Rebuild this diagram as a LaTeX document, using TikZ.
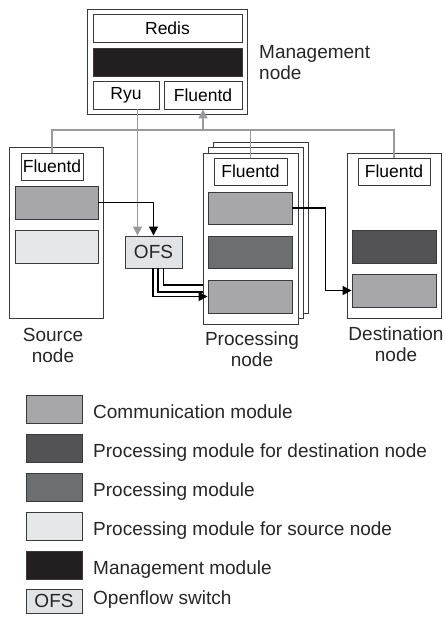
\documentclass[tikz,border=0pt]{standalone}
\usepackage{fontspec}
\setmainfont{Liberation Sans}
\usetikzlibrary{arrows.meta}
\definecolor{commc}{HTML}{A7A7A9}
\definecolor{dprocc}{HTML}{535355}
\definecolor{procc}{HTML}{6D6E70}
\definecolor{sprocc}{HTML}{E6E7E8}
\definecolor{mgmtc}{HTML}{231F20}
\definecolor{ofsc}{HTML}{E2E3E4}
\definecolor{linec}{HTML}{9A9A9C}
\definecolor{edgec}{HTML}{3A3A3C}
\tikzset{
  frame/.style={draw=edgec, line width=0.9pt, fill=white, inner sep=0pt},
  modbox/.style={draw=edgec, line width=0.9pt, inner sep=0pt},
  smalltxt/.style={font=\fontsize{17.5}{20}\selectfont},
  lbl/.style={font=\fontsize{19}{21}\selectfont, inner sep=0pt, text=black!85},
  gline/.style={draw=linec, line width=1.6pt},
  garrow/.style={gline, -{Triangle[length=9pt,width=9pt]}},
  bline/.style={draw=black, line width=1.5pt},
  barrow/.style={bline, -{Triangle[length=9pt,width=9pt]}}
}
\begin{document}
\begin{tikzpicture}[x=1pt,y=-1pt]
\useasboundingbox (0,0) rectangle (446,617);
% management node
\node[frame, minimum width=160pt, minimum height=105pt] (mgmt) at (167,61.5) {};
\node[frame, smalltxt, minimum width=149pt, minimum height=28pt] (redis) at (167.5,28) {Redis};
\node[modbox, fill=mgmtc, minimum width=149pt, minimum height=28pt] (mmod) at (167.5,62) {};
\node[frame, smalltxt, minimum width=66pt, minimum height=28pt] (ryu) at (126,95) {Ryu};
\node[frame, smalltxt, minimum width=78pt, minimum height=28pt] (mfl) at (203,95) {Fluentd};
\node[lbl, anchor=north west, align=left] (mlbl) at (259,45) {Management\\node};
% source node
\node[frame, minimum width=94pt, minimum height=171pt] (src) at (56,232.5) {};
\node[frame, smalltxt, minimum width=62pt, minimum height=27pt] (sfl) at (52,166.5) {Fluentd};
\node[modbox, fill=commc, minimum width=83pt, minimum height=33pt] (scomm) at (56.5,202.5) {};
\node[modbox, fill=sprocc, minimum width=83pt, minimum height=33pt] (sproc) at (56.5,246.5) {};
\node[lbl, anchor=north, align=center] (slbl) at (53,328) {Source\\node};
% processing node (stacked)
\node[frame, minimum width=95pt, minimum height=171pt] (pback) at (260.5,227.5) {};
\node[frame, minimum width=95pt, minimum height=171pt] (pmid) at (255.5,232.5) {};
\node[frame, minimum width=95pt, minimum height=171pt] (pfront) at (250.5,238.5) {};
\node[frame, smalltxt, minimum width=73pt, minimum height=27pt] (pfl) at (250.5,171.5) {Fluentd};
\node[modbox, fill=commc, minimum width=84pt, minimum height=32pt] (pcomm1) at (250,208) {};
\node[modbox, fill=procc, minimum width=84pt, minimum height=32pt] (pproc) at (250,252) {};
\node[modbox, fill=commc, minimum width=84pt, minimum height=33pt] (pcomm2) at (250,296.5) {};
\node[lbl, anchor=north, align=center] (plbl) at (252,332) {Processing\\node};
% destination node
\node[frame, minimum width=94pt, minimum height=165pt] (dst) at (394,235.5) {};
\node[frame, smalltxt, minimum width=72pt, minimum height=27pt] (dfl) at (394,171.5) {Fluentd};
\node[modbox, fill=dprocc, minimum width=84pt, minimum height=33pt] (dproc) at (394,246.5) {};
\node[modbox, fill=commc, minimum width=84pt, minimum height=33pt] (dcomm) at (394,290.5) {};
\node[lbl, anchor=north, align=center] (dlbl) at (396,327) {Destination\\node};
% OFS
\node[modbox, fill=ofsc, lbl, draw=edgec, minimum width=57pt, minimum height=32pt] (ofs) at (153.5,252) {OFS};
% bus lines
\coordinate (busL) at (53,130);
\draw[gline] (sfl.north) -- (sfl.north |- busL) -- (dfl.north |- busL) -- (dfl.north);
\draw[gline] (pfl.north) -- (pfl.north |- busL);
\draw[garrow] (mfl.south |- busL) -- (mfl.south);
\draw[garrow] ([xshift=11.5pt]ryu.south) -- ([xshift=11.5pt]ryu.south |- ofs.north);
% data flow
\draw[barrow] (scomm.east) -| (ofs.north);
\draw[bline] ([xshift=10pt]ofs.south) |- ([yshift=11.5pt]pcomm2.west -| pfront.west);
\draw[bline] ([xshift=4.5pt]ofs.south) |- ([yshift=4.5pt]pcomm2.west -| pfront.west);
\draw[barrow] ([xshift=-0.5pt]ofs.south) |- (pcomm2.west);
\draw[barrow] (pcomm1.east) -- ++(33,0) |- (dcomm.west);
% legend
\node[modbox, fill=commc, minimum width=56pt, minimum height=28pt] (lg1) at (54,409) {};
\node[modbox, fill=dprocc, minimum width=56pt, minimum height=28pt] (lg2) at (54,448) {};
\node[modbox, fill=procc, minimum width=56pt, minimum height=28pt] (lg3) at (54,487) {};
\node[modbox, fill=sprocc, minimum width=56pt, minimum height=28pt] (lg4) at (54,526) {};
\node[modbox, fill=mgmtc, minimum width=56pt, minimum height=28pt] (lg5) at (54,565) {};
\node[modbox, fill=ofsc, lbl, draw=edgec, minimum width=56pt, minimum height=24pt] (lg6) at (54,601) {OFS};
\node[lbl, anchor=base west] (lt1) at (93,418) {Communication module};
\node[lbl, anchor=base west] (lt2) at (93,457) {Processing module for destination node};
\node[lbl, anchor=base west] (lt3) at (93,496) {Processing module};
\node[lbl, anchor=base west] (lt4) at (93,535) {Processing module for source node};
\node[lbl, anchor=base west] (lt5) at (93,574) {Management module};
\node[lbl, anchor=base west] (lt6) at (93,604) {Openflow switch};
\end{tikzpicture}
\end{document}
